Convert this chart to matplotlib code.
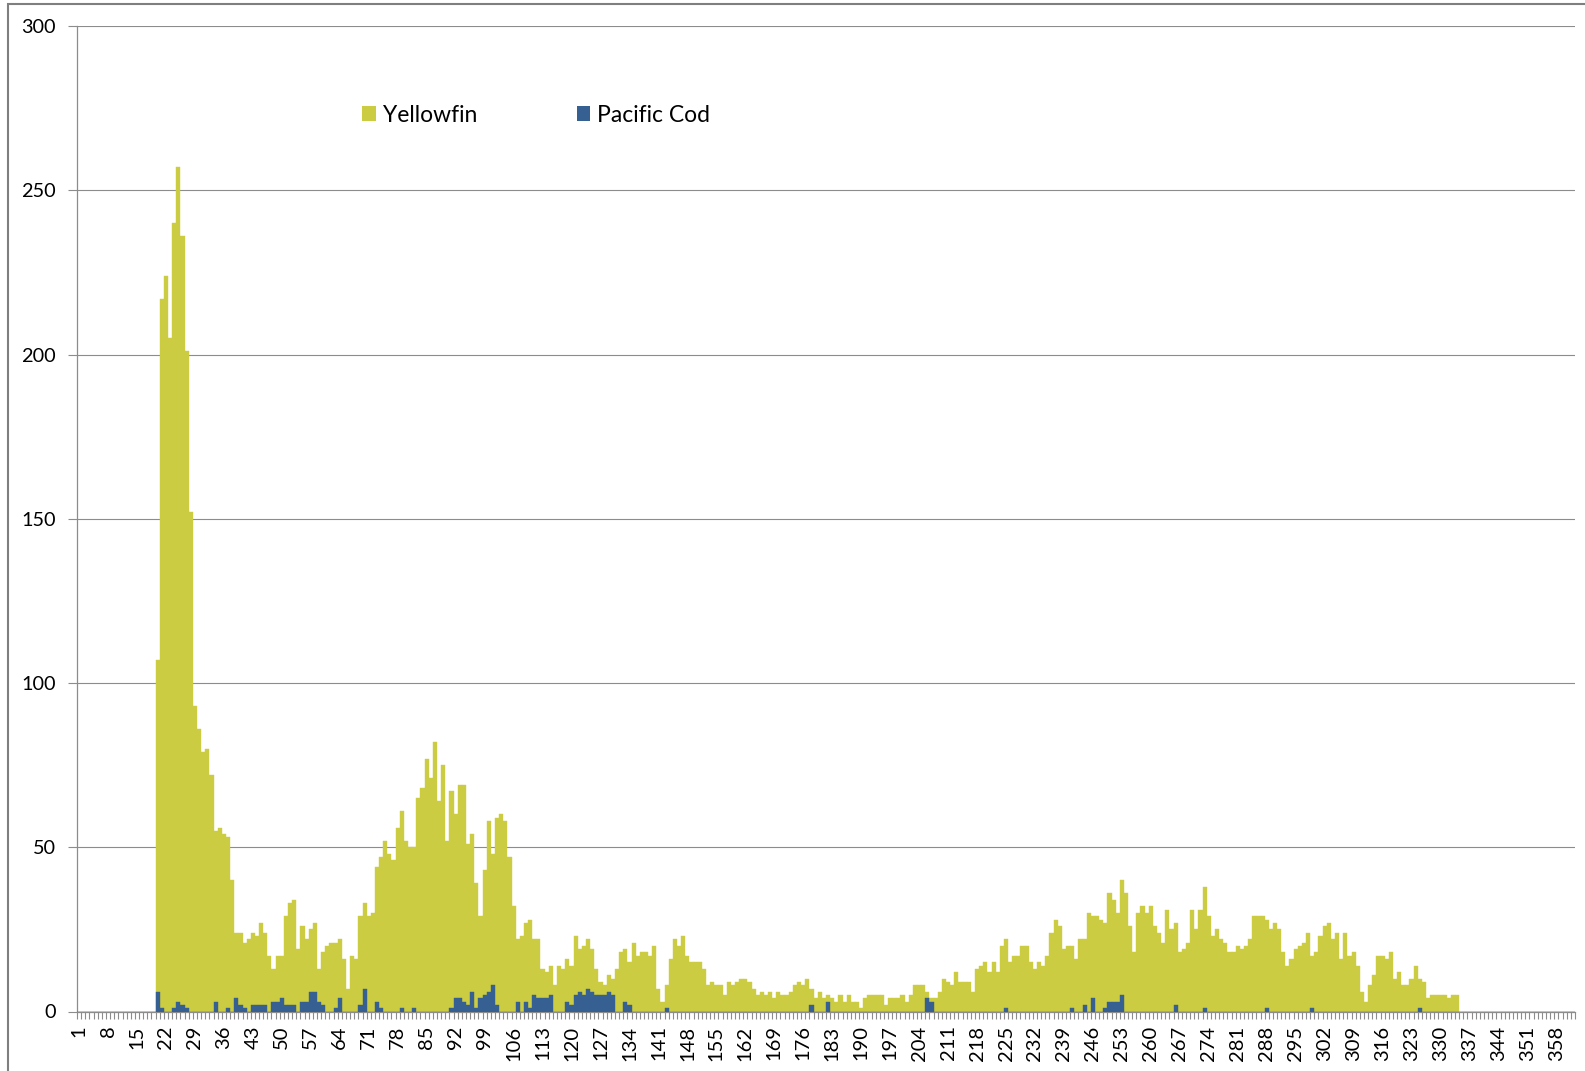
import numpy as np
import matplotlib
matplotlib.use('Agg')
import matplotlib.pyplot as plt
from matplotlib.patches import Patch, Rectangle

plt.rcParams['font.family'] = ['Lato', 'DejaVu Sans']

# categories: day of year 1..362
n_days = 362
first_day = 20

# Yellowfin counts, days 20..334 (ten per row)
yellowfin = [
    107, 217, 224, 205, 240, 257, 236, 201, 152, 93,
    86, 79, 80, 72, 55, 56, 54, 53, 40, 24,
    24, 21, 22, 24, 23, 27, 24, 17, 13, 17,
    17, 29, 33, 34, 19, 26, 22, 25, 27, 13,
    18, 20, 21, 21, 22, 16, 7, 17, 16, 29,
    33, 29, 30, 44, 47, 52, 48, 46, 56, 61,
    52, 50, 50, 65, 68, 77, 71, 82, 64, 75,
    52, 67, 60, 69, 69, 51, 54, 39, 29, 43,
    58, 48, 59, 60, 58, 47, 32, 22, 23, 27,
    28, 22, 22, 13, 12, 14, 8, 14, 13, 16,
    14, 23, 19, 20, 22, 19, 13, 9, 8, 11,
    10, 13, 18, 19, 15, 21, 17, 18, 18, 17,
    20, 7, 3, 8, 16, 22, 20, 23, 17, 15,
    15, 15, 13, 8, 9, 8, 8, 5, 9, 8,
    9, 10, 10, 9, 7, 5, 6, 5, 6, 4,
    6, 5, 5, 6, 8, 9, 8, 10, 7, 4,
    6, 4, 5, 4, 3, 5, 3, 5, 3, 3,
    1, 4, 5, 5, 5, 5, 2, 4, 4, 4,
    5, 3, 5, 8, 8, 8, 6, 4, 4, 6,
    10, 9, 8, 12, 9, 9, 9, 6, 13, 14,
    15, 12, 15, 12, 20, 22, 15, 17, 17, 20,
    20, 15, 13, 15, 14, 17, 24, 28, 26, 19,
    20, 20, 16, 22, 22, 30, 29, 29, 28, 27,
    36, 34, 30, 40, 36, 26, 18, 30, 32, 30,
    32, 26, 24, 21, 31, 25, 27, 18, 19, 21,
    31, 25, 31, 38, 29, 23, 25, 22, 21, 18,
    18, 20, 19, 20, 22, 29, 29, 29, 28, 25,
    27, 25, 18, 14, 16, 19, 20, 21, 24, 17,
    18, 23, 26, 27, 22, 24, 16, 24, 17, 18,
    14, 6, 3, 8, 11, 17, 17, 16, 18, 10,
    12, 8, 8, 10, 14, 10, 9, 4, 5, 5,
    5, 5, 4, 5, 5,
]

# Pacific Cod, only the days with a catch
cod_days = [20, 21, 24, 25, 26, 27, 34, 37, 39, 40, 41, 43, 44, 45, 46,
            48, 49, 50, 51, 52, 53, 55, 56, 57, 58, 59, 60, 63, 64, 69,
            70, 73, 74, 79, 82, 91, 92, 93, 94, 95, 96, 97, 98, 99, 100,
            101, 102, 107, 109, 110, 111, 112, 113, 114, 115, 119, 120,
            121, 122, 123, 124, 125, 126, 127, 128, 129, 130, 133, 134,
            143, 178, 182, 206, 207, 225, 241, 244, 246, 249, 250, 251,
            252, 253, 266, 273, 288, 299, 325]
cod_counts = [6, 1, 1, 3, 2, 1, 3, 1, 4, 2, 1, 2, 2, 2, 2,
              3, 3, 4, 2, 2, 2, 3, 3, 6, 6, 3, 2, 1, 4, 2,
              7, 3, 1, 1, 1, 1, 4, 4, 3, 2, 6, 1, 4, 5, 6,
              8, 2, 3, 3, 1, 5, 4, 4, 4, 5, 3, 2,
              5, 6, 5, 7, 6, 5, 5, 5, 6, 5, 3, 2,
              1, 2, 3, 4, 3, 1, 1, 2, 4, 1, 3, 3,
              3, 5, 2, 1, 1, 1, 1]

yf_color = '#CCCC42'
cod_color = '#376092'
grey = '#8C8C8C'

days = np.arange(1, n_days + 1)
yf_all = np.zeros(n_days)
yf_all[first_day - 1:first_day - 1 + len(yellowfin)] = yellowfin
cod_all = np.zeros(n_days)
cod_all[np.array(cod_days) - 1] = cod_counts

W, H = 1585, 1071
fig = plt.figure(figsize=(W / 100, H / 100), dpi=100)
ax = fig.add_axes([77 / W, 1 - 1011.5 / H, (1575 - 77) / W, (1011.5 - 26) / H])

ax.bar(days, yf_all, width=1.0, color=yf_color, edgecolor=yf_color, linewidth=0.3, zorder=2)
ax.bar(days, cod_all, width=1.0, color=cod_color, edgecolor=cod_color, linewidth=0.3, zorder=3)

ax.set_xlim(0.5, n_days + 0.5)
ax.set_ylim(0, 300)
ax.set_yticks(range(0, 301, 50))
ax.yaxis.grid(True, color=grey, linewidth=0.8)
ax.set_axisbelow(True)

ax.set_xticks(days[::7])
ax.set_xticklabels([str(d) for d in days[::7]], rotation=90)
ax.set_xticks(np.arange(0.5, n_days + 1), minor=True)
ax.tick_params(axis='x', which='major', length=0, pad=10, labelsize=14.5)
ax.tick_params(axis='x', which='minor', length=5, width=0.8, color=grey)
ax.tick_params(axis='y', length=6.5, width=0.8, color=grey, pad=9, labelsize=14.3)

for s in ['top', 'right']:
    ax.spines[s].set_visible(False)
for s in ['left', 'bottom']:
    ax.spines[s].set_color(grey)
    ax.spines[s].set_linewidth(0.9)

handles = [Patch(facecolor=yf_color, label='Yellowfin'),
           Patch(facecolor=cod_color, label='Pacific Cod')]
ax.legend(handles=handles, ncol=2, frameon=False, fontsize=16.5,
          loc='center left', bbox_to_anchor=((362 - 77) / 1498, (1011.5 - 115) / 985.5),
          handlelength=0.6, handleheight=0.6, handletextpad=0.3, columnspacing=4.35,
          borderaxespad=0, borderpad=0)

# chart area border (cut at the right and bottom)
fig.patches.append(Rectangle((8 / W, -0.05), 1.1, 1 - 4 / H + 0.05, transform=fig.transFigure,
                             fill=False, edgecolor='#7F7F7F', linewidth=1.5))

fig.savefig('out.png', dpi=100)
